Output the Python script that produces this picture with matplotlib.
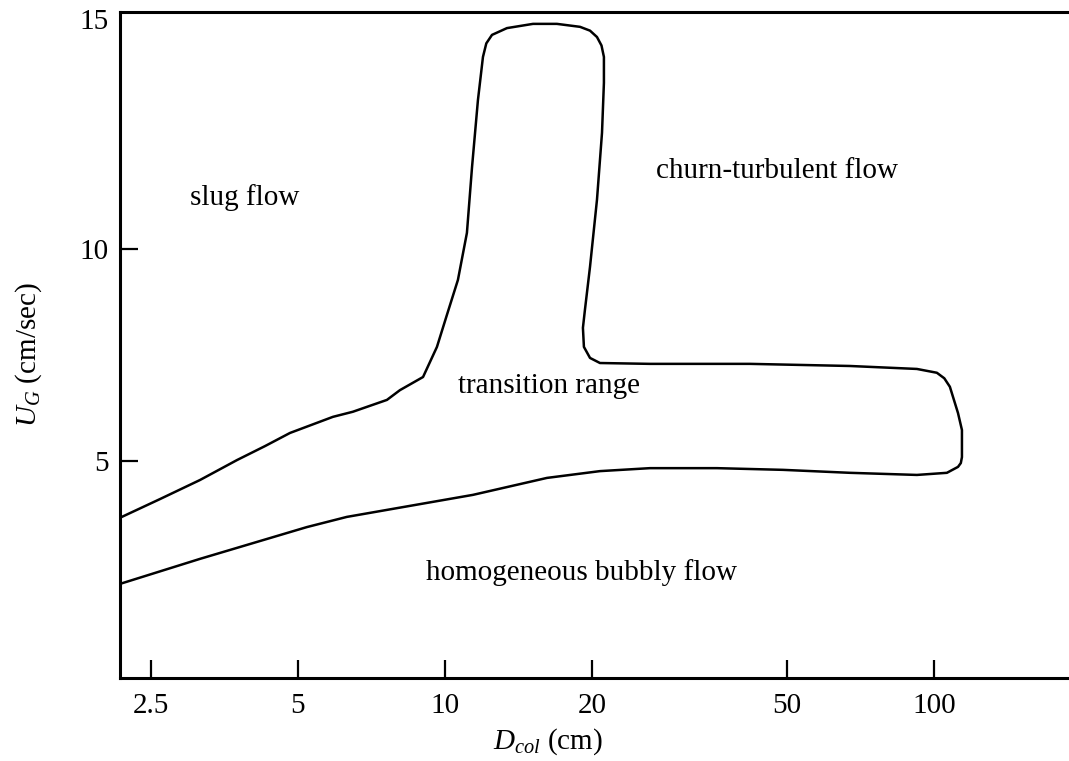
import matplotlib
matplotlib.use("Agg")
import matplotlib.pyplot as plt
import matplotlib.transforms as mtransforms

plt.rcParams['font.family'] = ['Liberation Serif', 'DejaVu Serif']
plt.rcParams['mathtext.fontset'] = 'custom'
plt.rcParams['mathtext.rm'] = 'Liberation Serif'
plt.rcParams['mathtext.it'] = 'Liberation Serif:italic'

# Regime boundary traced as one continuous line (column diameter cm, gas velocity cm/s)
boundary_d = [2.165, 2.613, 3.155, 3.755, 4.285, 4.82, 5.90, 6.48, 7.61, 8.09,
              9.02, 9.63, 10.09, 10.63, 11.09, 11.36, 11.68, 11.96, 12.15, 12.48,
              13.39, 15.14, 16.94, 18.89, 19.8, 20.46, 20.9, 21.14, 21.14, 20.95,
              20.46, 19.80, 19.33, 19.15, 19.24, 19.80, 20.75, 26.26, 42.05, 67.33,
              92.3, 101.4, 105.0, 107.8, 112.0, 114.1, 114.1, 113.5, 112.0, 106.3,
              92.3, 67.33, 49.1, 35.98, 26.26, 20.75, 16.17, 11.41, 6.30, 5.22,
              3.155, 2.165]
boundary_u = [3.66, 4.10, 4.55, 5.02, 5.35, 5.66, 6.04, 6.16, 6.44, 6.67,
              6.98, 7.69, 8.44, 9.27, 10.38, 11.93, 13.51, 14.53, 14.85, 15.05,
              15.21, 15.31, 15.31, 15.24, 15.15, 15.00, 14.80, 14.53, 13.92, 12.74,
              11.16, 9.58, 8.56, 8.14, 7.69, 7.43, 7.31, 7.29, 7.29, 7.24,
              7.17, 7.08, 6.95, 6.75, 6.13, 5.73, 5.09, 4.95, 4.86, 4.72,
              4.67, 4.72, 4.79, 4.83, 4.83, 4.76, 4.60, 4.20, 3.68, 3.44,
              2.69, 2.10]

region_labels = ["slug flow", "churn-turbulent flow", "transition range",
                 "homogeneous bubbly flow"]
region_d = [3.90, 47.8, 16.32, 19.06]
region_u = [11.04, 11.67, 6.60, 2.19]

x_ticks = [2.5, 5, 10, 20, 50, 100]
x_tick_labels = ["2.5", "5", "10", "20", "50", "100"]
y_ticks = [5, 10, 15]
y_tick_labels = ["5", "10", "15"]

fig = plt.figure(figsize=(10.69, 7.61), dpi=100)
ax = fig.add_axes([120 / 1069, 83 / 761, 949 / 1069, 666 / 761])

ax.plot(boundary_d, boundary_u, color='black', lw=1.8,
        solid_joinstyle='round', solid_capstyle='round')

for lab, d, u in zip(region_labels, region_d, region_u):
    ax.text(d, u, lab, ha='center', va='baseline', fontsize=21)

ax.set_xscale('log')
ax.set_xlim(2.165, 188.9)
ax.set_ylim(-0.12, 15.59)

ax.set_xticks(x_ticks)
ax.set_xticklabels(x_tick_labels)
ax.xaxis.set_minor_locator(matplotlib.ticker.NullLocator())
ax.set_yticks(y_ticks)
ax.set_yticklabels(y_tick_labels)

ax.tick_params(axis='x', direction='in', length=13, width=1.6, pad=11,
               labelsize=21, top=False)
ax.tick_params(axis='y', direction='in', length=13, width=1.6, pad=8,
               labelsize=21, right=False)

# the "15" tick has no mark; its label sits at the top corner
yt = ax.yaxis.get_major_ticks()
yt[2].tick1line.set_visible(False)
offset = mtransforms.ScaledTranslation(0, 18 / 100, fig.dpi_scale_trans)
yt[2].label1.set_transform(yt[2].label1.get_transform() + offset)

for side in ['left', 'bottom', 'top']:
    ax.spines[side].set_linewidth(2.2)
ax.spines['right'].set_visible(False)

ax.set_xlabel(r"$D_{col}$ (cm)", fontsize=21)
ax.set_ylabel(r"$U_G$ (cm/sec)", fontsize=21)
ax.xaxis.set_label_coords(0.451, -0.073)
ax.yaxis.set_label_coords(-0.08, 0.485)

fig.savefig("out.png", dpi=100, facecolor='white')
